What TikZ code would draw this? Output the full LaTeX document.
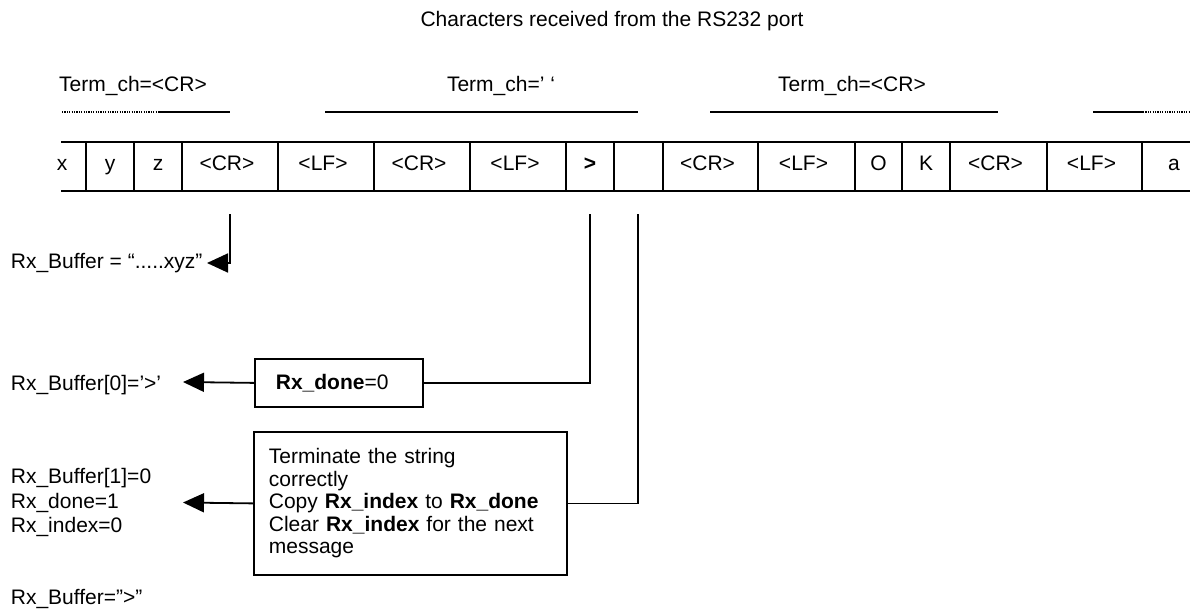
\documentclass[tikz,border=0pt]{standalone}
\usepackage{fontspec}
\setmainfont{Liberation Sans}
\usetikzlibrary{arrows.meta}
\begin{document}
\begin{tikzpicture}[x=1pt,y=-1pt,line width=1.8pt,
  every node/.style={inner sep=0pt,font=\fontsize{21}{22.5}\selectfont},
  lbl/.style={anchor=base west},
  cell/.style={anchor=base},
  fine/.style={line width=1.3pt,dash pattern=on 1.2pt off 1.2pt},
  arr/.style={-{Triangle[length=21pt,width=19pt]}},
  procbox/.style={draw,align=left,inner xsep=15pt,anchor=north west}]
\useasboundingbox (0,0) rectangle (1194,610);

% heading
\node[cell] (title) at (612,27) {Characters received from the RS232 port};

% terminator ranges
\node[cell] (t1) at (133,92) {Term\_ch=<CR>};
\node[cell] (t2) at (501,92) {Term\_ch=’ ‘};
\node[cell] (t3) at (852,92) {Term\_ch=<CR>};
\draw[fine] (62,112) -- (158,112);
\draw (158,112) -- (230,112);
\draw (325,112) -- (638,112);
\draw (710,112) -- (998,112);
\draw (1093,112) -- (1143,112);
\draw[fine] (1143,112) -- (1190,112);

% character stream
\draw (61,142) -- (1190,142);
\draw (61,191) -- (1190,191);
\foreach \xx in {86,134,182,278,374,470,566,614,663,758,855,902,950,1047,1142}
  \draw (\xx,142) -- (\xx,191);
\node[cell] (cx) at (62,170) {x};
\node[cell] (cy) at (110,170) {y};
\node[cell] (cz) at (158,170) {z};
\node[cell] (ccr1) at (227,170) {<CR>};
\node[cell] (clf1) at (323,170) {<LF>};
\node[cell] (ccr2) at (419,170) {<CR>};
\node[cell] (clf2) at (515,170) {<LF>};
\node[cell] (cgt) at (590,170) {\textbf{>}};
\node[cell] (ccr3) at (707.5,170) {<CR>};
\node[cell] (clf3) at (803.5,170) {<LF>};
\node[cell] (co) at (878.5,170) {O};
\node[cell] (ck) at (926,170) {K};
\node[cell] (ccr4) at (995.5,170) {<CR>};
\node[cell] (clf4) at (1091.5,170) {<LF>};
\node[cell] (ca) at (1174,170) {a};

% results
\node[lbl] (buf1) at (10,268) {Rx\_Buffer = “.....xyz”};
\node[lbl] (buf2) at (10,390) {Rx\_Buffer[0]=’>’};
\node[lbl] (res1) at (10,483) {Rx\_Buffer[1]=0};
\node[lbl] (res2) at (10,508) {Rx\_done=1};
\node[lbl] (res3) at (10,532) {Rx\_index=0};
\node[lbl] (buf3) at (10,604) {Rx\_Buffer=”>”};

% actions
\node[procbox,inner xsep=21pt,text width=126pt,minimum height=48pt] (done) at (254,358)
  {\textbf{Rx\_done}=0};
\node[procbox,text width=283pt,minimum height=143pt] (term) at (253,431)
  {Terminate the string\\correctly\\Copy \textbf{Rx\_index} to \textbf{Rx\_done}\\
   Clear \textbf{Rx\_index} for the next\\message};

% connectors
\coordinate (s1) at (230,214);
\coordinate (s2) at (590,214);
\coordinate (s3) at (638,214);
\coordinate (tip1) at (207,263);
\coordinate (tip2) at (183,382);
\coordinate (tip3) at (183,502.5);
\draw[arr] (s1) |- (tip1);
\draw (s2) |- (done.east);
\draw[arr] (done.west) -- (tip2);
\draw (s3) |- (term.east);
\draw[arr] (term.west) -- (tip3);
\end{tikzpicture}
\end{document}
